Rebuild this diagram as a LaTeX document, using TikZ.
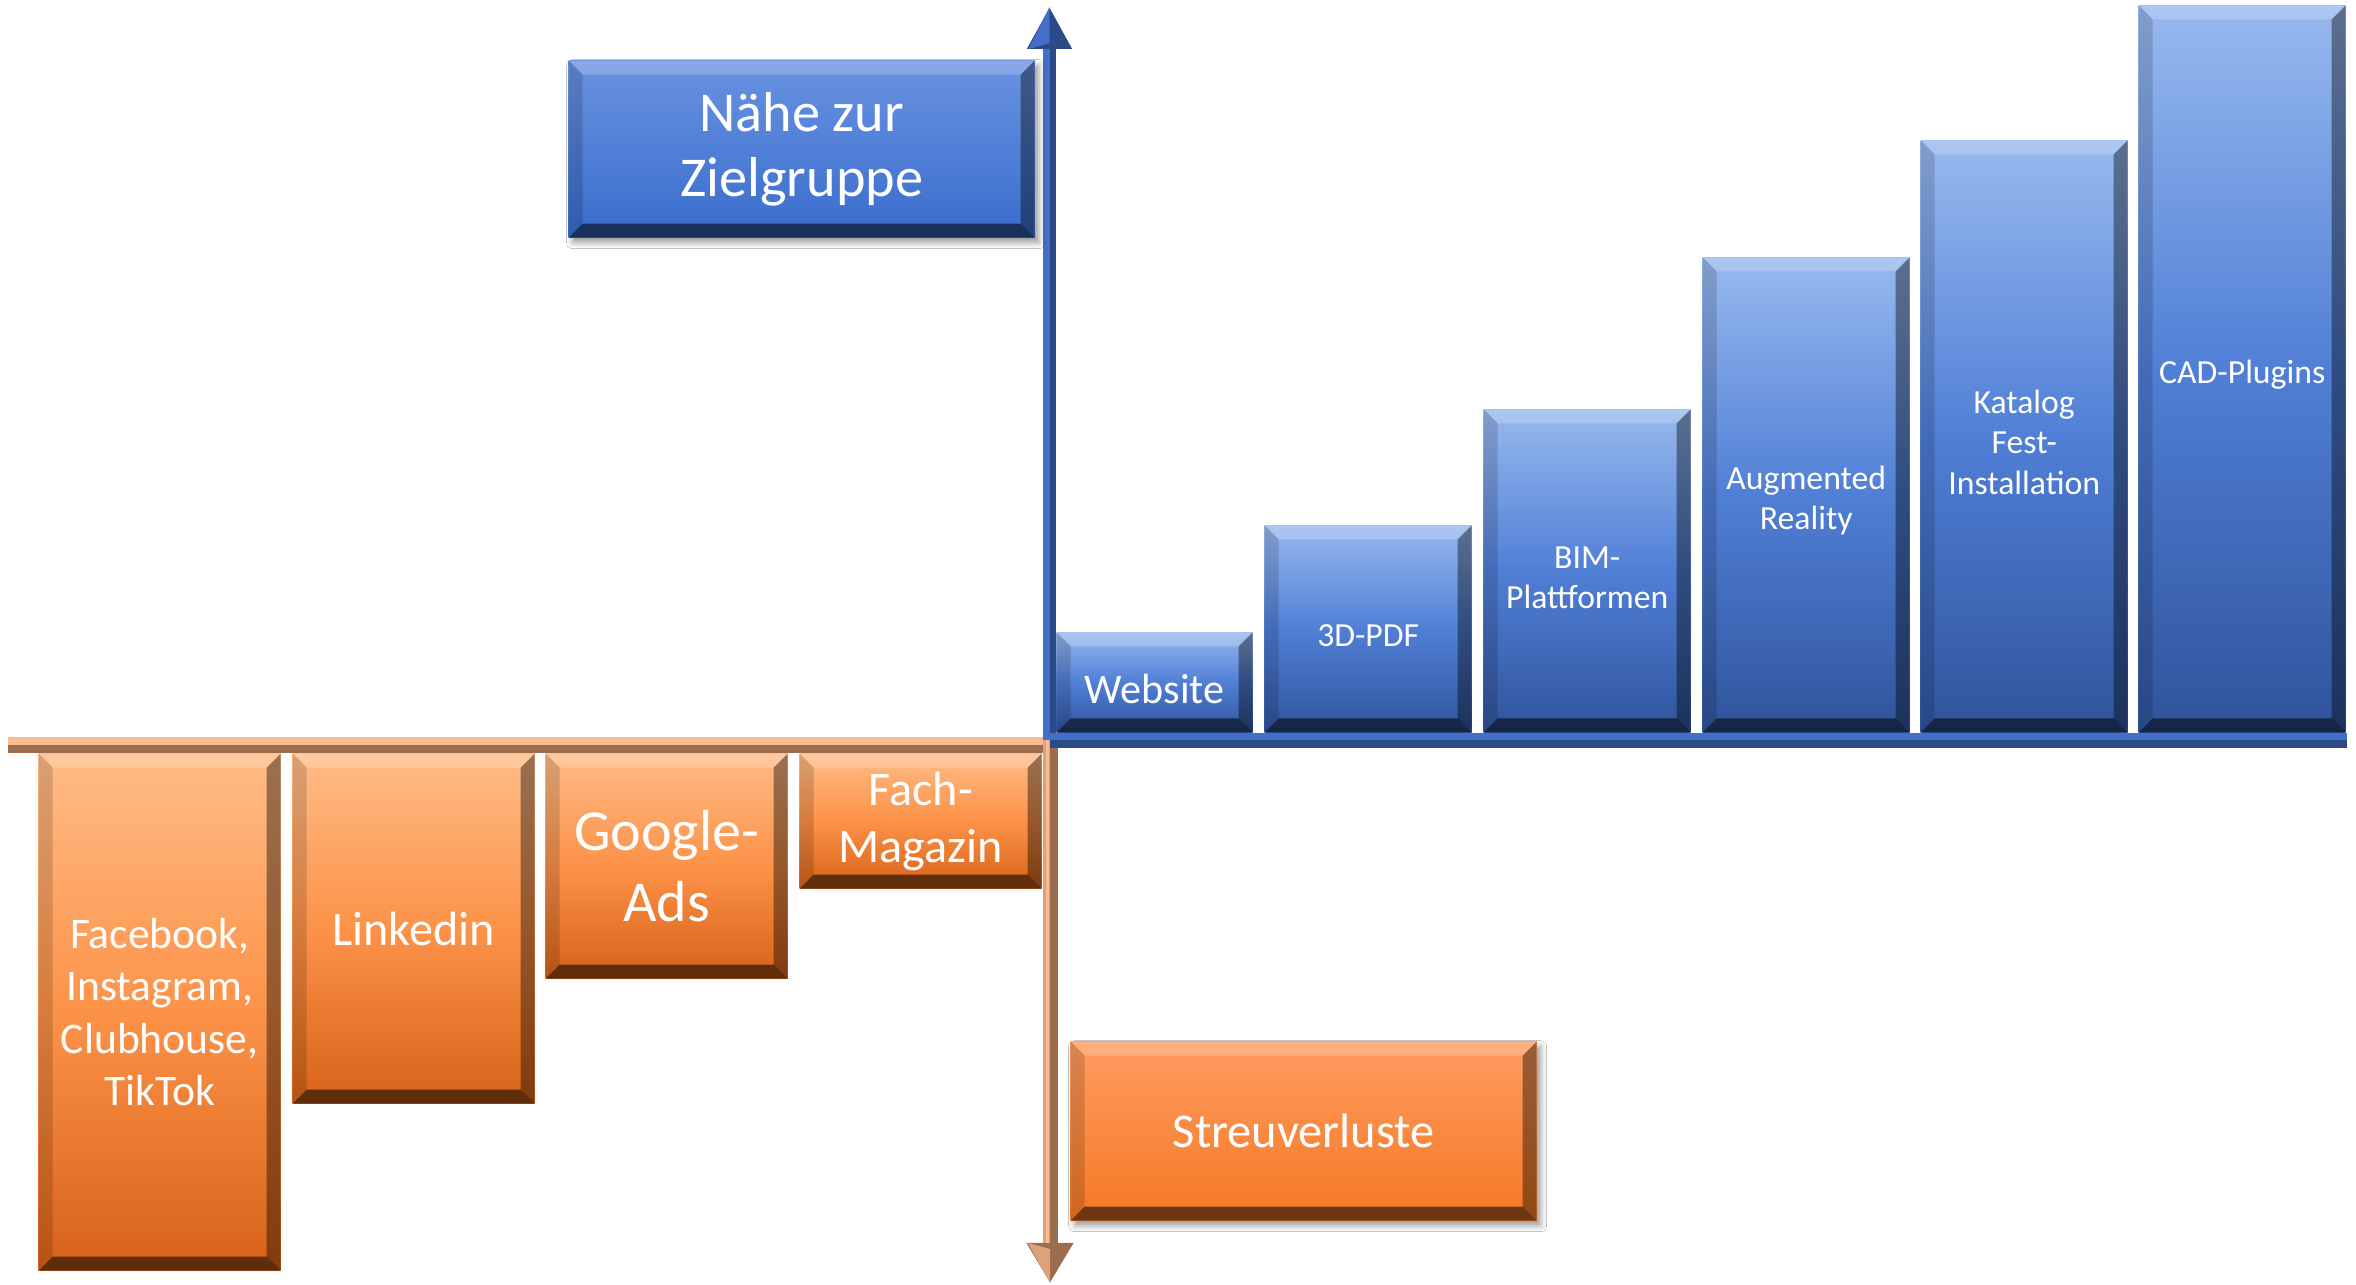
\documentclass[tikz,border=0pt]{standalone}
\usepackage{fontspec}
\setmainfont{Carlito}
\usetikzlibrary{arrows.meta,shadows.blur}

\definecolor{bluetop}{RGB}{152,185,238}
\definecolor{bluemid}{RGB}{80,127,214}
\definecolor{bluebot}{RGB}{48,84,156}
\definecolor{labtop}{RGB}{106,147,225}
\definecolor{labbot}{RGB}{56,108,204}
\definecolor{orgtop}{RGB}{255,188,135}
\definecolor{orgmid}{RGB}{252,146,72}
\definecolor{orgbot}{RGB}{214,98,24}
\definecolor{lostop}{RGB}{255,156,96}
\definecolor{losbot}{RGB}{245,120,36}
\definecolor{axblue}{RGB}{44,74,136}
\definecolor{axbluelt}{RGB}{66,112,200}
\definecolor{axorg}{RGB}{155,108,78}
\definecolor{axorglt}{RGB}{250,188,142}
\definecolor{axorgmd}{RGB}{222,162,122}

\newcommand\bevw{0.14cm}
\newcommand\barup{\rule{0pt}{1.05em}}

\tikzset{
  bevel/.style={path picture={
    \path (path picture bounding box.south west) coordinate (bsw)
          (path picture bounding box.south east) coordinate (bse)
          (path picture bounding box.north west) coordinate (bnw)
          (path picture bounding box.north east) coordinate (bne);
    \fill[white,opacity=.2] (bnw) -- (bne) -- ([shift={(-\bevw,-\bevw)}]bne) -- ([shift={(\bevw,-\bevw)}]bnw) -- cycle;
    \fill[black,opacity=.15] (bnw) -- ([shift={(\bevw,-\bevw)}]bnw) -- ([shift={(\bevw,\bevw)}]bsw) -- (bsw) -- cycle;
    \fill[black,opacity=.4] (bne) -- ([shift={(-\bevw,-\bevw)}]bne) -- ([shift={(-\bevw,\bevw)}]bse) -- (bse) -- cycle;
    \fill[black,opacity=.55] (bsw) -- ([shift={(\bevw,\bevw)}]bsw) -- ([shift={(-\bevw,\bevw)}]bse) -- (bse) -- cycle;
  }},
  bbar/.style={bevel, top color=bluetop, bottom color=bluebot, middle color=bluemid,
    text=white, inner sep=0pt, align=center, anchor=south west,
    font=\fontsize{9.6}{11.5}\selectfont},
  obar/.style={bevel, top color=orgtop, bottom color=orgbot, middle color=orgmid,
    text=white, inner sep=0pt, align=center, anchor=north west, minimum width=2.42cm},
  label/.style={bevel, text=white, inner sep=0pt, align=center, anchor=north west,
    blur shadow={shadow xshift=.04cm, shadow yshift=-.05cm, shadow blur radius=.06cm, shadow opacity=40}},
  yax/.style={line width=.13cm, axblue, -{Triangle[width=.42cm,length=.42cm]}},
  xax/.style={line width=.15cm, axblue},
  yneg/.style={line width=.15cm, axorg, -{Triangle[width=.44cm,length=.4cm]}},
  xneg/.style={line width=.16cm, axorg}
}

\begin{document}
\begin{tikzpicture}
\useasboundingbox[fill=white] (0,0) rectangle (23.56,12.85);

% axes
\coordinate (o) at (10.495,5.445);
\coordinate (on) at (10.50,5.40);
\coordinate (ytop) at (10.495,12.78);
\coordinate (xend) at (23.47,5.445);
\coordinate (ybot) at (10.50,0.02);
\coordinate (xbeg) at (0.08,5.40);
\draw[xneg] (xbeg) -- (on);
\draw[axorglt,line width=.08cm] ([yshift=.04cm]xbeg) -- ([yshift=.04cm]on);
\draw[yneg] ([yshift=.08cm]on) -- (ybot);
\draw[axorgmd,line width=.075cm] ([shift={(-.0375,.08)}]on) -- ([shift={(-.0375,.4)}]ybot);
\draw[axorglt,line width=.03cm] ([shift={(-.03,.08)}]on) -- ([shift={(-.03,.4)}]ybot);
\fill[axorgmd] (ybot) -- ([shift={(-.22,.4)}]ybot) -- ([yshift=.34cm]ybot) -- cycle;
\draw[yax] (o) -- (ytop);
\draw[axbluelt,line width=.065cm] ([xshift=-.0325cm]o) -- ([shift={(-.0325,-.42)}]ytop);
\fill[axbluelt] (ytop) -- ([shift={(-.21,-.42)}]ytop) -- ([yshift=-.36cm]ytop) -- cycle;
\draw[xax] (o) -- (xend);
\draw[axbluelt,line width=.075cm] ([yshift=.0375cm]o) -- ([yshift=.0375cm]xend);

% axis labels
\node[label, top color=labtop, bottom color=labbot, minimum width=4.66cm, minimum height=1.77cm,
  font=\fontsize{16}{18.5}\selectfont] (naehe) at (5.68,12.25) {Nähe zur\\Zielgruppe};
\node[label, top color=lostop, bottom color=losbot, minimum width=4.66cm, minimum height=1.79cm,
  font=\fontsize{13.8}{16}\selectfont] (streu) at (10.70,2.44) {Streuverluste};

% blue bars
\node[bbar, minimum width=1.96cm, minimum height=1.00cm, font=\fontsize{12}{14}\selectfont] (web) at (10.56,5.52) {\rule{0pt}{1em}Website};
\node[bbar, minimum width=2.07cm, minimum height=2.07cm] (pdf) at (12.64,5.52) {\barup 3D-PDF};
\node[bbar, minimum width=2.07cm, minimum height=3.23cm] (bim) at (14.83,5.52) {\barup BIM-\\Plattformen};
\node[bbar, minimum width=2.07cm, minimum height=4.75cm] (ar) at (17.02,5.52) {\barup Augmented\\Reality};
\node[bbar, minimum width=2.07cm, minimum height=5.92cm] (kat) at (19.20,5.52) {\barup Katalog\\Fest-\\Installation};
\node[bbar, minimum width=2.07cm, minimum height=7.27cm] (cad) at (21.38,5.52) {\barup CAD-Plugins};

% orange bars
\node[obar, minimum height=5.17cm, font=\fontsize{12.4}{14.9}\selectfont] (social) at (0.38,5.32) {Facebook,\\Instagram,\\Clubhouse,\\TikTok};
\node[obar, minimum height=3.50cm, font=\fontsize{13.7}{16}\selectfont] (lin) at (2.92,5.32) {Linkedin};
\node[obar, minimum height=2.25cm, font=\fontsize{16.5}{20}\selectfont] (gads) at (5.45,5.32) {Google-\\Ads};
\node[obar, minimum height=1.35cm, font=\fontsize{13.7}{16.2}\selectfont] (mag) at (7.99,5.32) {Fach-\\Magazin};
\end{tikzpicture}
\end{document}
